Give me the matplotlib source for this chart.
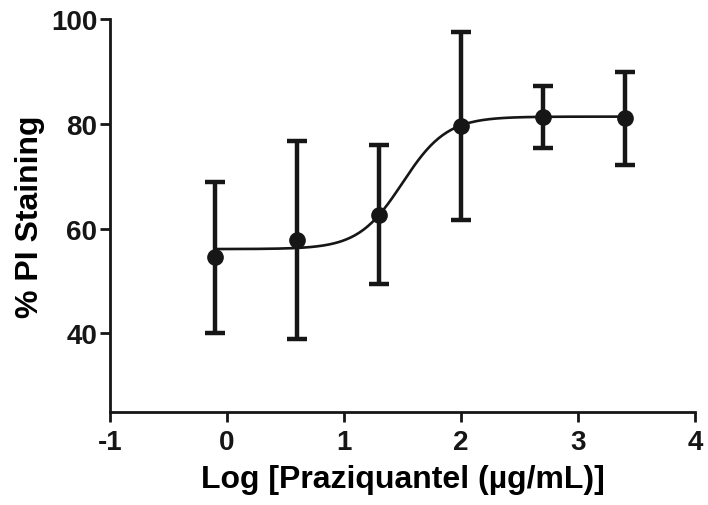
import numpy as np
from matplotlib import pyplot as plt

plt.rcParams["font.family"] = ["Liberation Sans", "DejaVu Sans"]
plt.rcParams["font.weight"] = "bold"
plt.rcParams["axes.unicode_minus"] = False  # plain hyphen like "-1"

# log10 of concentration (ug/mL)
log_conc = [-0.097, 0.602, 1.301, 2.0, 2.699, 3.398]
pi_mean = [54.5, 57.9, 62.7, 79.7, 81.4, 81.1]
err_low = [40.0, 39.0, 49.4, 61.7, 75.5, 72.2]
err_high = [69.0, 76.7, 75.9, 97.6, 87.3, 90.0]

# sigmoidal fit parameters
bottom = 56.1
top = 81.4
log_ec50 = 1.5
hill = 2.3

mean = np.array(pi_mean)
yerr = [mean - np.array(err_low), np.array(err_high) - mean]

fig, ax = plt.subplots(figsize=(7.08, 5.06), dpi=100)
fig.subplots_adjust(left=0.155, right=0.982, top=0.96, bottom=0.184)

xs = np.linspace(log_conc[0], log_conc[-1], 300)
fit = bottom + (top - bottom) / (1 + 10 ** ((log_ec50 - xs) * hill))
ax.plot(xs, fit, color="#161616", lw=1.9)

ax.errorbar(
    log_conc, pi_mean, yerr=yerr,
    fmt="o", color="#161616", ms=11, elinewidth=3.2,
    capsize=7, capthick=3.2,
)

ax.set_xlim(-1, 4)
ax.set_ylim(25, 100)
ax.set_xticks([-1, 0, 1, 2, 3, 4])
ax.set_yticks([40, 60, 80, 100])

for s in ["top", "right"]:
    ax.spines[s].set_visible(False)
for s in ["left", "bottom"]:
    ax.spines[s].set_linewidth(2)
    ax.spines[s].set_color("#161616")
ax.tick_params(direction="out", length=7, width=2, labelsize=20, colors="#161616")
ax.tick_params(axis="x", pad=5)
ax.tick_params(axis="y", pad=2)

ax.set_xlabel("Log [Praziquantel (µg/mL)]", fontsize=23, fontweight="bold", labelpad=7)
ax.set_ylabel("% PI Staining", fontsize=23, fontweight="bold", labelpad=4)

plt.savefig("out.png", dpi=100)
